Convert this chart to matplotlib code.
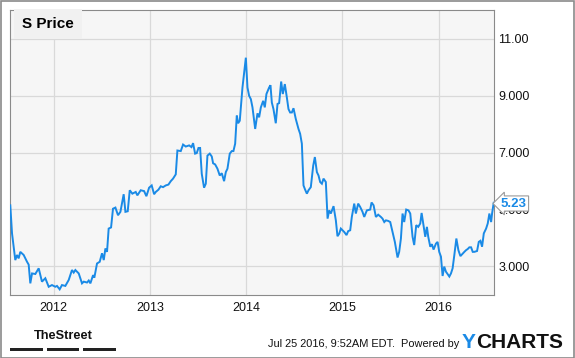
import numpy as np
import matplotlib.pyplot as plt
from matplotlib.patches import Rectangle

# decimal years (Jul 2011 .. Jul 25 2016)
years = [2011.551, 2011.569, 2011.603, 2011.621, 2011.638, 2011.655, 2011.690, 2011.725,
         2011.742, 2011.759, 2011.777, 2011.811, 2011.846, 2011.880, 2011.915, 2011.950,
         2011.984, 2012.019, 2012.036, 2012.064, 2012.088, 2012.123, 2012.158, 2012.192,
         2012.210, 2012.227, 2012.262, 2012.296, 2012.314, 2012.348, 2012.366, 2012.383,
         2012.411, 2012.424, 2012.452, 2012.480, 2012.504, 2012.522, 2012.539, 2012.556,
         2012.573, 2012.598, 2012.618, 2012.643, 2012.670, 2012.695, 2012.729, 2012.747,
         2012.771, 2012.792, 2012.819, 2012.854, 2012.871, 2012.906, 2012.941, 2012.965,
         2012.993, 2013.020, 2013.045, 2013.062, 2013.090, 2013.114, 2013.138, 2013.166,
         2013.194, 2013.218, 2013.242, 2013.270, 2013.287, 2013.322, 2013.346, 2013.374,
         2013.409, 2013.433, 2013.450, 2013.471, 2013.488, 2013.506, 2013.523, 2013.540,
         2013.564, 2013.582, 2013.599, 2013.623, 2013.644, 2013.658, 2013.679, 2013.703,
         2013.727, 2013.748, 2013.772, 2013.790, 2013.807, 2013.831, 2013.852, 2013.869,
         2013.887, 2013.904, 2013.918, 2013.935, 2013.963, 2013.998, 2014.015, 2014.032,
         2014.050, 2014.067, 2014.095, 2014.119, 2014.136, 2014.154, 2014.178, 2014.195,
         2014.212, 2014.240, 2014.254, 2014.268, 2014.285, 2014.309, 2014.327, 2014.344,
         2014.365, 2014.382, 2014.403, 2014.424, 2014.441, 2014.458, 2014.476, 2014.493,
         2014.517, 2014.545, 2014.562, 2014.580, 2014.597, 2014.614, 2014.632, 2014.649,
         2014.673, 2014.698, 2014.715, 2014.736, 2014.753, 2014.770, 2014.788, 2014.805,
         2014.829, 2014.847, 2014.864, 2014.881, 2014.909, 2014.933, 2014.950, 2014.968,
         2014.985, 2015.020, 2015.044, 2015.061, 2015.082, 2015.099, 2015.124, 2015.141,
         2015.165, 2015.186, 2015.210, 2015.228, 2015.255, 2015.290, 2015.304, 2015.325,
         2015.349, 2015.373, 2015.401, 2015.418, 2015.436, 2015.453, 2015.477, 2015.498,
         2015.522, 2015.546, 2015.574, 2015.591, 2015.609, 2015.626, 2015.643, 2015.664,
         2015.688, 2015.706, 2015.730, 2015.747, 2015.768, 2015.789, 2015.810, 2015.824,
         2015.844, 2015.862, 2015.879, 2015.893, 2015.914, 2015.931, 2015.948, 2015.973,
         2015.990, 2016.007, 2016.025, 2016.042, 2016.059, 2016.077, 2016.094, 2016.112,
         2016.129, 2016.146, 2016.164, 2016.185, 2016.206, 2016.227, 2016.251, 2016.268,
         2016.286, 2016.303, 2016.320, 2016.338, 2016.355, 2016.372, 2016.400, 2016.418,
         2016.435, 2016.452, 2016.470, 2016.494, 2016.511, 2016.528, 2016.546, 2016.556,
         2016.573]

price = [5.14, 4.15, 3.21, 3.39, 3.27, 3.50, 3.39, 3.15,
         3.05, 2.39, 2.74, 2.72, 2.92, 2.45, 2.57, 2.27,
         2.33, 2.27, 2.30, 2.18, 2.33, 2.30, 2.51, 2.86,
         2.77, 2.86, 2.74, 2.39, 2.45, 2.42, 2.49, 2.39,
         2.68, 2.59, 3.09, 3.15, 3.45, 3.21, 3.62, 3.50,
         4.32, 4.36, 5.02, 5.06, 4.79, 4.91, 5.53, 4.91,
         4.93, 5.67, 5.55, 5.61, 5.49, 5.67, 5.64, 5.46,
         5.76, 5.84, 5.53, 5.61, 5.69, 5.81, 5.78, 5.84,
         5.87, 5.99, 6.08, 6.23, 7.07, 7.05, 7.28, 7.21,
         7.25, 7.19, 7.33, 6.96, 6.98, 7.16, 7.16, 6.25,
         5.76, 5.90, 6.89, 6.96, 6.86, 6.62, 6.58, 6.43,
         6.19, 6.27, 5.99, 6.31, 6.43, 6.96, 7.05, 7.05,
         7.31, 8.30, 8.03, 8.12, 9.29, 10.34, 9.29, 9.00,
         8.88, 8.59, 7.83, 8.38, 8.24, 8.59, 8.82, 8.59,
         9.06, 9.29, 9.37, 8.76, 8.53, 8.03, 8.71, 8.74,
         9.50, 9.06, 9.41, 8.94, 8.53, 8.41, 8.41, 8.56,
         8.18, 7.83, 7.66, 7.31, 5.84, 5.69, 5.55, 5.67,
         5.78, 6.54, 6.84, 6.31, 6.19, 5.96, 5.90, 6.08,
         5.96, 4.67, 4.96, 4.85, 5.11, 4.61, 4.05, 4.14,
         4.32, 4.20, 4.09, 4.23, 4.26, 4.73, 5.20, 4.85,
         5.20, 5.08, 4.91, 4.73, 4.96, 4.99, 5.24, 5.14,
         4.73, 4.81, 4.73, 4.67, 4.55, 4.61, 4.59, 4.55,
         4.20, 3.85, 3.30, 3.50, 3.97, 4.85, 4.55, 4.99,
         4.96, 4.85, 4.03, 3.74, 4.44, 4.38, 4.50, 4.87,
         4.44, 4.03, 4.38, 4.03, 3.68, 3.77, 3.58, 3.79,
         3.85, 3.50, 3.33, 2.65, 2.98, 2.80, 2.72, 2.63,
         2.74, 2.92, 3.39, 3.97, 3.56, 3.35, 3.44, 3.50,
         3.56, 3.60, 3.66, 3.66, 3.50, 3.50, 3.53, 3.85,
         3.89, 3.68, 4.15, 4.32, 4.50, 4.85, 4.55, 4.85,
         5.23]

year_ticks = [2012, 2013, 2014, 2015, 2016]
price_ticks = [3, 5, 7, 9, 11]
price_labels = ['3.000', '5.000', '7.000', '9.000', '11.00']
last_label = '5.23'

blue = '#1a8ae6'
W, H = 575, 358

plt.rcParams['font.family'] = ['Liberation Sans', 'DejaVu Sans']

fig = plt.figure(figsize=(W / 100, H / 100), dpi=100)
fig.patch.set_facecolor('white')

ax = fig.add_axes([10 / W, 1 - 295 / H, 484 / W, 285 / H])
ax.set_facecolor('#f6f6f6')
ax.plot(years, price, color=blue, lw=1.4, solid_joinstyle='miter', zorder=3)

ax.set_xlim(2011.548, years[-1] + 0.003)
ax.set_ylim(1.98, 12.02)
ax.set_xticks(year_ticks)
ax.set_xticklabels([str(y) for y in year_ticks])
ax.set_yticks(price_ticks)
ax.set_yticklabels(price_labels)
ax.yaxis.tick_right()
ax.tick_params(axis='both', length=0, labelsize=9, colors='#111111')
ax.tick_params(axis='y', pad=3)
ax.tick_params(axis='x', pad=5)
ax.grid(True, color='#d9d9d9', lw=0.9)
ax.set_axisbelow(True)
for s in ax.spines.values():
    s.set_color('#8a8a8a')
    s.set_linewidth(0.8)

# title box
ax.text(22 / W, 1 - 24 / H, 'S Price', transform=fig.transFigure, fontsize=11,
        fontweight='bold', va='center', ha='left', color='black',
        bbox=dict(boxstyle='square,pad=0.55', fc='#f1f1f1', ec='none'))

# last value callout
ax.annotate(last_label, xy=(years[-1], price[-1]), xycoords='data',
            xytext=(514 / W, 1 - 203.5 / H), textcoords='figure fraction',
            fontsize=9.5, fontweight='bold', color=blue, ha='center', va='center',
            annotation_clip=False, zorder=10,
            bbox=dict(boxstyle='larrow,pad=0.12', fc='white', ec='#9a9a9a', lw=0.8))

# footer
fig.text(63 / W, 1 - 336 / H, 'TheStreet', fontsize=9.2, fontweight='bold',
         ha='center', va='center', color='#111111')
for x0, x1 in [(10, 43), (47, 79), (83, 116)]:
    fig.patches.append(Rectangle((x0 / W, 1 - 350.5 / H), (x1 - x0) / W, 3 / H,
                                 transform=fig.transFigure, fc='#222222', ec='none'))
fig.text(459 / W, 1 - 344 / H, 'Jul 25 2016, 9:52AM EDT.  Powered by', fontsize=7.9,
         ha='right', va='center', color='#111111')
t_y = fig.text(462 / W, 1 - 342 / H, 'Y', fontsize=15, fontweight='bold',
               ha='left', va='center', color=blue)
fig.canvas.draw()
bb = t_y.get_window_extent()
fig.text(bb.x1 / W + 0.5 / W, 1 - 342 / H, 'CHARTS', fontsize=15, fontweight='bold',
         ha='left', va='center', color='#111111')

# outer frame
fig.patches.append(Rectangle((0.5 / W, 0.5 / H), (W - 1.5) / W, (H - 1.5) / H,
                             transform=fig.transFigure, fill=False, ec='#8a8a8a', lw=1.2))

fig.savefig('out.png', dpi=100)
